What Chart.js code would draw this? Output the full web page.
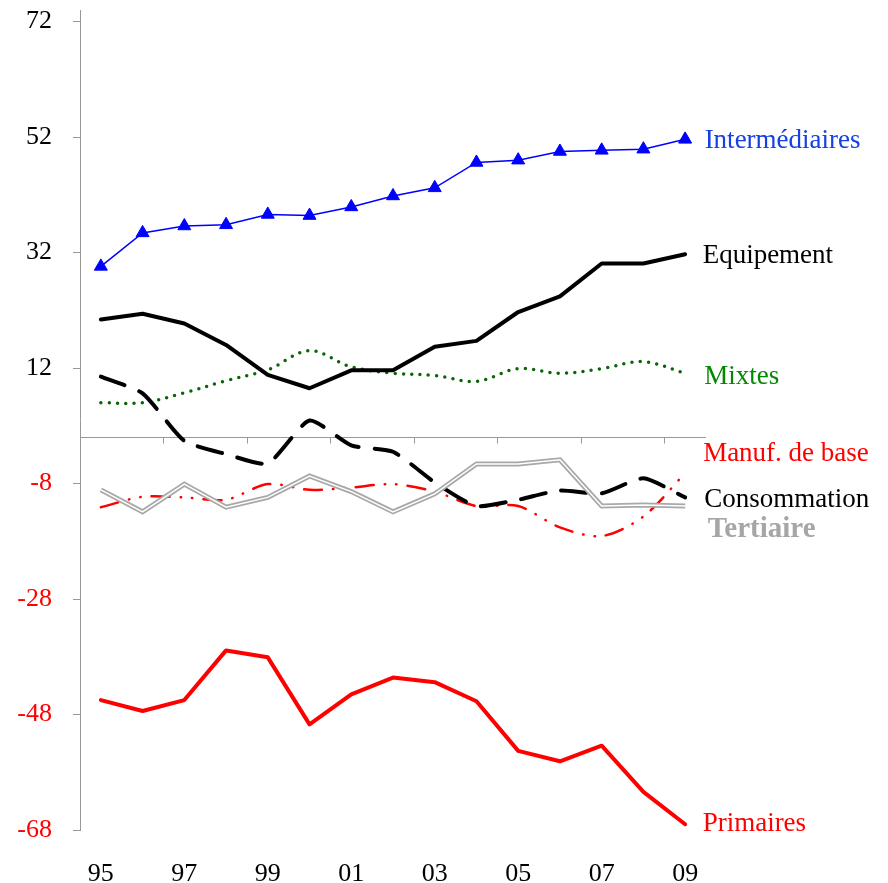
<!DOCTYPE html>
<html>
<head>
<meta charset="utf-8">
<script src="https://cdn.jsdelivr.net/npm/chart.js@4.4.1/dist/chart.umd.min.js"></script>
<style>
  html, body { margin: 0; padding: 0; background: #ffffff; }
  #wrap { width: 888px; height: 883px; position: relative; }
</style>
</head>
<body>
<div id="wrap"><canvas id="c" width="888" height="883"></canvas></div>
<script>
// ---- data ----
const years = [1995, 1996, 1997, 1998, 1999, 2000, 2001, 2002, 2003, 2004, 2005, 2006, 2007, 2008, 2009];
const yTicks = [-68, -48, -28, -8, 12, 32, 52, 72];
const xTickYears = [1995, 1997, 1999, 2001, 2003, 2005, 2007, 2009];
const zeroTickYears = [1996.5, 1998.5, 2000.5, 2002.5, 2004.5, 2006.5, 2008.5];

const intermediaires = [29.6, 35.4, 36.6, 36.8, 38.6, 38.4, 39.9, 41.8, 43.2, 47.6, 48.0, 49.5, 49.7, 49.9, 51.6];
const equipement     = [20.4, 21.4, 19.7, 16.0, 10.8, 8.5, 11.6, 11.6, 15.7, 16.7, 21.7, 24.4, 30.1, 30.1, 31.7];
const mixtes         = [6.0, 6.0, 7.7, 9.8, 11.7, 15.0, 12.2, 11.1, 10.7, 9.7, 11.9, 11.1, 11.9, 13.1, 11.1];
const manufBase      = [-12.1, -10.3, -10.4, -10.8, -8.1, -9.1, -8.7, -8.1, -9.4, -11.9, -11.9, -15.6, -17.1, -13.7, -6.2];
const consommation   = [10.5, 7.6, -0.6, -2.9, -4.5, 2.9, -1.4, -2.5, -7.8, -11.9, -10.8, -9.2, -9.7, -7.1, -10.4];
const tertiaire      = [-9.1, -12.9, -8.1, -12.1, -10.4, -6.7, -9.4, -12.9, -9.8, -4.6, -4.6, -3.9, -11.9, -11.7, -11.9];
const primaires      = [-45.5, -47.4, -45.5, -36.9, -38.1, -49.7, -44.5, -41.6, -42.4, -45.7, -54.3, -56.1, -53.4, -61.4, -67.0];

const seriesNames = ['Intermédiaires', 'Equipement', 'Mixtes', 'Manuf. de base', 'Consommation', 'Tertiaire', 'Primaires'];
const labelValues = [51.4, 31.4, 10.5, -2.9, -10.8, -16.0, -67.0];

// ---- styles ----
const serif = "'Liberation Serif', 'Times New Roman', 'DejaVu Serif', serif";
const labelStyles = [
  { color: '#1440E6', dx: 19.5, weight: 'normal', size: 27 },
  { color: '#000000', dx: 17.5, weight: 'normal', size: 27 },
  { color: '#008A00', dx: 19,   weight: 'normal', size: 27 },
  { color: '#FF0000', dx: 18,   weight: 'normal', size: 27 },
  { color: '#000000', dx: 19,   weight: 'normal', size: 27 },
  { color: '#A6A6A6', dx: 22.5, weight: 'bold',   size: 29 },
  { color: '#FF0000', dx: 17.5, weight: 'normal', size: 27 }
];
const axisGray = '#999999';

// zero line with tick marks between every second pair of categories (drawn through the scales)
const zeroAxisPlugin = {
  id: 'zeroAxis',
  beforeDatasetsDraw(chart) {
    const ctx = chart.ctx;
    const xs = chart.scales.x, ys = chart.scales.y;
    const y0 = Math.round(ys.getPixelForValue(0)) + 0.5;
    ctx.save();
    ctx.strokeStyle = axisGray;
    ctx.lineWidth = 1;
    ctx.beginPath();
    ctx.moveTo(chart.chartArea.left, y0);
    ctx.lineTo(chart.chartArea.right, y0);
    zeroTickYears.forEach(v => {
      const px = Math.round(xs.getPixelForValue(v)) + 0.5;
      ctx.moveTo(px, y0);
      ctx.lineTo(px, y0 + 6);
    });
    ctx.stroke();
    ctx.restore();
  }
};

const seriesLabelsPlugin = {
  id: 'seriesLabels',
  afterDatasetsDraw(chart) {
    const ctx = chart.ctx;
    const xs = chart.scales.x, ys = chart.scales.y;
    const xEnd = xs.getPixelForValue(years[years.length - 1]);
    ctx.save();
    ctx.textAlign = 'left';
    ctx.textBaseline = 'middle';
    seriesNames.forEach((name, i) => {
      const st = labelStyles[i];
      ctx.font = st.weight + ' ' + st.size + 'px ' + serif;
      ctx.fillStyle = st.color;
      ctx.fillText(name, xEnd + st.dx, ys.getPixelForValue(labelValues[i]));
    });
    ctx.restore();
  }
};

new Chart(document.getElementById('c'), {
  type: 'line',
  data: {
    labels: years,
    datasets: [
      {
        label: 'Tertiaire (inner)', data: tertiaire, order: 0,
        borderColor: '#ffffff', borderWidth: 1.5, pointRadius: 0, tension: 0
      },
      {
        label: 'Tertiaire', data: tertiaire, order: 1,
        borderColor: '#A8A8A8', borderWidth: 5, pointRadius: 0, tension: 0
      },
      {
        label: 'Intermédiaires', data: intermediaires, order: 2,
        borderColor: '#0000FF', borderWidth: 1.5, tension: 0,
        pointStyle: 'triangle', pointRadius: 7.5, pointBackgroundColor: '#0000FF',
        pointBorderColor: '#0000FF', pointBorderWidth: 1
      },
      {
        label: 'Consommation', data: consommation, order: 3,
        borderColor: '#000000', borderWidth: 4, pointRadius: 0, tension: 0.2,
        borderDash: [25, 16], borderCapStyle: 'round', borderJoinStyle: 'round'
      },
      {
        label: 'Manuf. de base', data: manufBase, order: 4,
        borderColor: '#FF0000', borderWidth: 2.5, pointRadius: 0, tension: 0.3,
        borderDash: [18, 11, 0.5, 11, 0.5, 11], borderCapStyle: 'round'
      },
      {
        label: 'Equipement', data: equipement, order: 5,
        borderColor: '#000000', borderWidth: 4, pointRadius: 0, tension: 0,
        borderJoinStyle: 'round', borderCapStyle: 'round'
      },
      {
        label: 'Mixtes', data: mixtes, order: 6,
        borderColor: '#0A640A', borderWidth: 3.5, pointRadius: 0, tension: 0.35,
        borderDash: [0, 8.3], borderCapStyle: 'round'
      },
      {
        label: 'Primaires', data: primaires, order: 7,
        borderColor: '#FF0000', borderWidth: 4, pointRadius: 0, tension: 0,
        borderJoinStyle: 'round', borderCapStyle: 'round'
      }
    ]
  },
  options: {
    responsive: false,
    animation: false,
    events: [],
    layout: { autoPadding: false, padding: { left: 17, right: 182, top: 10, bottom: 0 } },
    plugins: { legend: { display: false }, tooltip: { enabled: false } },
    scales: {
      x: {
        type: 'linear', position: 'bottom',
        min: 1994.5, max: 2009.5,
        afterBuildTicks: (s) => { s.ticks = xTickYears.map(v => ({ value: v })); },
        afterFit: (s) => { s.height = 53; s.paddingLeft = 0; s.paddingRight = 0; },
        grid: { display: false, drawTicks: false },
        border: { display: false },
        ticks: {
          autoSkip: false, maxRotation: 0, padding: 31,
          color: '#000000',
          font: { family: serif, size: 26, lineHeight: 1 },
          callback: (v) => String(v % 100).padStart(2, '0')
        }
      },
      y: {
        type: 'linear', position: 'left',
        min: -68, max: 74,
        afterBuildTicks: (s) => { s.ticks = yTicks.map(v => ({ value: v })); },
        afterFit: (s) => { s.width = 63; s.paddingTop = 0; s.paddingBottom = 0; },
        grid: { drawOnChartArea: false, drawTicks: true, tickLength: 7, color: axisGray, lineWidth: 1 },
        border: { display: true, color: axisGray, width: 1 },
        ticks: {
          padding: 21,
          color: (c) => (c.tick && c.tick.value < 0 ? '#FF0000' : '#000000'),
          font: { family: serif, size: 26, lineHeight: 0.75 },
          callback: (v) => String(v)
        }
      }
    }
  },
  plugins: [zeroAxisPlugin, seriesLabelsPlugin]
});
</script>
</body>
</html>
